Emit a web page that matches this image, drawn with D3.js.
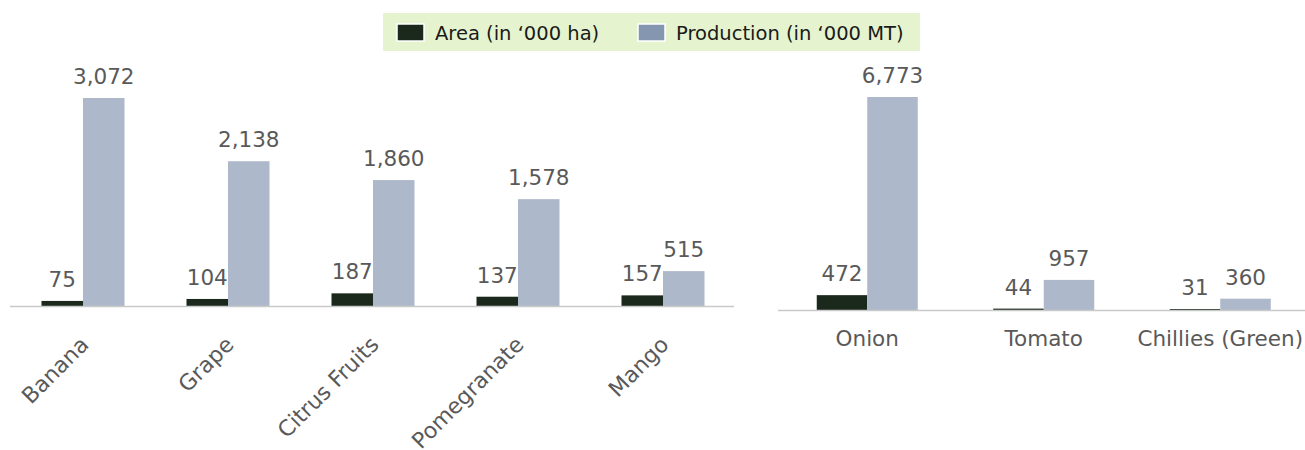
<!DOCTYPE html>
<html>
<head>
<meta charset="utf-8">
<script src="https://cdn.jsdelivr.net/npm/d3@7"></script>
<style>
  html, body { margin: 0; padding: 0; background: #ffffff; }
  svg { display: block; font-family: "DejaVu Sans", Verdana, sans-serif; }
</style>
</head>
<body>
<svg id="chart" width="1305" height="450"></svg>
<script>
// Fruits (left panel)
const fruitCategories = ["Banana", "Grape", "Citrus Fruits", "Pomegranate", "Mango"];
const fruitArea = [75, 104, 187, 137, 157];
const fruitProduction = [3072, 2138, 1860, 1578, 515];

// Vegetables (right panel)
const vegCategories = ["Onion", "Tomato", "Chillies (Green)"];
const vegArea = [472, 44, 31];
const vegProduction = [6773, 957, 360];

const seriesNames = ["Area (in \u2018000 ha)", "Production (in \u2018000 MT)"];
const seriesKeys = ["area", "production"];

const colors = { area: "#1b291c", production: "#adb8ca" };
const legendColors = { area: "#1b291c", production: "#8597b0" };
const labelColor = "#595959";
const fmt = d3.format(",");

const svg = d3.select("#chart");

function buildRows(cats, area, prod) {
  return cats.map((c, i) => ({ category: c, area: area[i], production: prod[i] }));
}

function drawPanel(opts) {
  const rows = buildRows(opts.categories, opts.area, opts.production);
  const g = svg.append("g");

  const x0 = d3.scaleBand().domain(opts.categories).range([opts.x0, opts.x1]).padding(0);
  const x1 = d3.scaleBand().domain(seriesKeys)
    .range([x0.bandwidth() / 2 - opts.barWidth, x0.bandwidth() / 2 + opts.barWidth]);
  const y = d3.scaleLinear().domain([0, opts.yMax]).range([opts.baseline, opts.top]);

  const groups = g.selectAll("g.cat").data(rows).join("g")
    .attr("class", "cat")
    .attr("transform", d => `translate(${x0(d.category)},0)`);

  groups.selectAll("rect").data(d => seriesKeys.map(k => ({ key: k, value: d[k] })))
    .join("rect")
    .attr("x", d => x1(d.key))
    .attr("width", x1.bandwidth())
    .attr("y", d => y(d.value))
    .attr("height", d => y(0) - y(d.value))
    .attr("fill", d => colors[d.key]);

  groups.selectAll("text.val").data(d => seriesKeys.map(k => ({ key: k, value: d[k] })))
    .join("text")
    .attr("class", "val")
    .attr("x", d => x1(d.key) + x1.bandwidth() / 2)
    .attr("y", d => y(d.value) - 14)
    .attr("text-anchor", "middle")
    .attr("font-size", 21.5)
    .attr("fill", labelColor)
    .text(d => fmt(d.value));

  // baseline axis
  const axis = g.append("g")
    .attr("transform", `translate(0,${opts.baseline})`)
    .call(d3.axisBottom(x0).tickSize(0).tickPadding(0));
  axis.select(".domain")
    .attr("d", `M${opts.axisStart},0.5H${opts.axisEnd}`)
    .attr("stroke", "#c9c9c9")
    .attr("stroke-width", 1.5);
  axis.selectAll(".tick text")
    .attr("font-size", 21.5)
    .attr("font-family", "DejaVu Sans, Verdana, sans-serif")
    .attr("fill", labelColor);

  if (opts.rotate) {
    axis.selectAll(".tick text")
      .attr("text-anchor", "end")
      .attr("dy", 0)
      .attr("font-size", 22)
      .attr("transform", "translate(7,40) rotate(-45)");
  } else {
    axis.selectAll(".tick text")
      .attr("dy", 0)
      .attr("y", 36);
  }
}

drawPanel({
  categories: fruitCategories, area: fruitArea, production: fruitProduction,
  x0: 10.5, x1: 735.5, barWidth: 41.5, baseline: 306, top: 98, yMax: 3072,
  axisStart: 10, axisEnd: 734, rotate: true
});

drawPanel({
  categories: vegCategories, area: vegArea, production: vegProduction,
  x0: 779, x1: 1308.5, barWidth: 50.5, baseline: 310, top: 97, yMax: 6773,
  axisStart: 778, axisEnd: 1305, rotate: false
});

// Legend
const legend = svg.append("g");
legend.append("rect")
  .attr("x", 383).attr("y", 13).attr("width", 537).attr("height", 38)
  .attr("fill", "#e5f4cf");
const legendX = [397, 638];
seriesKeys.forEach((k, i) => {
  legend.append("rect")
    .attr("x", legendX[i]).attr("y", 24).attr("width", 27).attr("height", 17)
    .attr("fill", legendColors[k])
    .attr("stroke", "#ffffff").attr("stroke-width", 1.5);
  legend.append("text")
    .attr("x", legendX[i] + 38).attr("y", 40)
    .attr("font-size", 19.5)
    .attr("fill", "#1a1a1a")
    .text(seriesNames[i]);
});
</script>
</body>
</html>
